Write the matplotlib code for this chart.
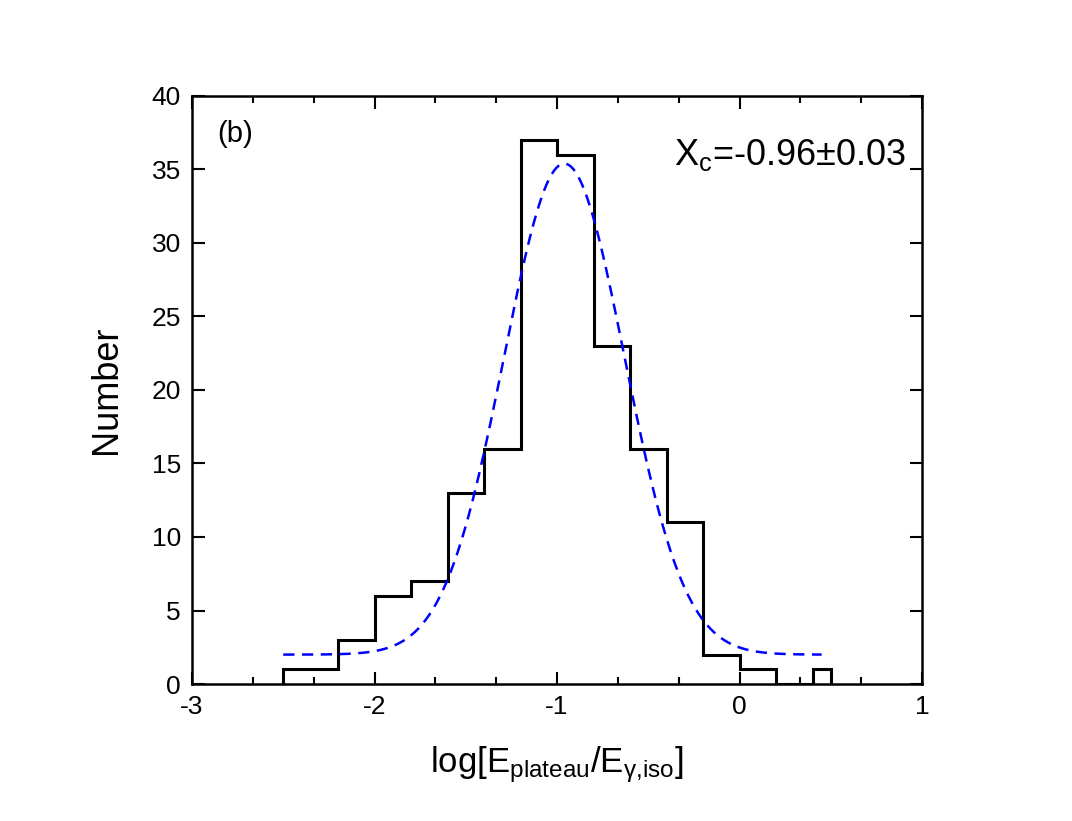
import numpy as np
import matplotlib.pyplot as plt
from matplotlib.ticker import MultipleLocator

plt.rcParams['font.family'] = ['Liberation Sans', 'DejaVu Sans']
plt.rcParams['mathtext.fontset'] = 'custom'
plt.rcParams['mathtext.rm'] = 'Liberation Sans'
plt.rcParams['mathtext.it'] = 'Liberation Sans'
plt.rcParams['axes.unicode_minus'] = False

# histogram bin edges and counts
bin_edges = [-2.5, -2.2, -2.0, -1.8, -1.6, -1.4, -1.2, -1.0, -0.8, -0.6,
             -0.4, -0.2, 0.0, 0.2, 0.4, 0.5]
counts = [1, 3, 6, 7, 13, 16, 37, 36, 23, 16, 11, 2, 1, 0, 1]

# gaussian fit parameters (offset, amplitude, centre, sigma) and range
fit_y0 = 2.0
fit_amp = 33.4
fit_xc = -0.96
fit_sigma = 0.33
fit_range = (-2.5, 0.45)


def gauss(x):
    return fit_y0 + fit_amp * np.exp(-(x - fit_xc) ** 2 / (2 * fit_sigma ** 2))


fig = plt.figure(figsize=(10.72, 8.21), dpi=100)
ax = fig.add_axes([192 / 1072, 1 - 684 / 821, (922 - 192) / 1072, (684 - 96) / 821])

ax.stairs(counts, bin_edges, color='black', linewidth=2.2)

xf = np.linspace(fit_range[0], fit_range[1], 300)
ax.plot(xf, gauss(xf), color='blue', linestyle=(0, (4.5, 3)), linewidth=1.8)

ax.set_xlim(-3, 1)
ax.set_ylim(0, 40)
ax.xaxis.set_major_locator(MultipleLocator(1))
ax.xaxis.set_minor_locator(MultipleLocator(1 / 3))
ax.yaxis.set_major_locator(MultipleLocator(5))
ax.tick_params(which='both', direction='in', top=True, right=True,
               labelsize=19, width=1.5, pad=8)
ax.tick_params(which='major', length=9)
ax.tick_params(which='minor', length=5)
for s in ax.spines.values():
    s.set_linewidth(1.8)

ax.set_xlabel(r'log[E$_{\rm plateau}$/E$_{\rm \gamma{,}iso}$]', fontsize=25, labelpad=18)
ax.set_ylabel('Number', fontsize=26, labelpad=20)

ax.text(0.035, 0.96, '(b)', transform=ax.transAxes, fontsize=21, va='top', ha='left')
ax.text(0.978, 0.93, r'X$_{\rm c}$=-0.96±0.03', transform=ax.transAxes,
        fontsize=26, va='top', ha='right')

plt.savefig('out.png', dpi=100)
